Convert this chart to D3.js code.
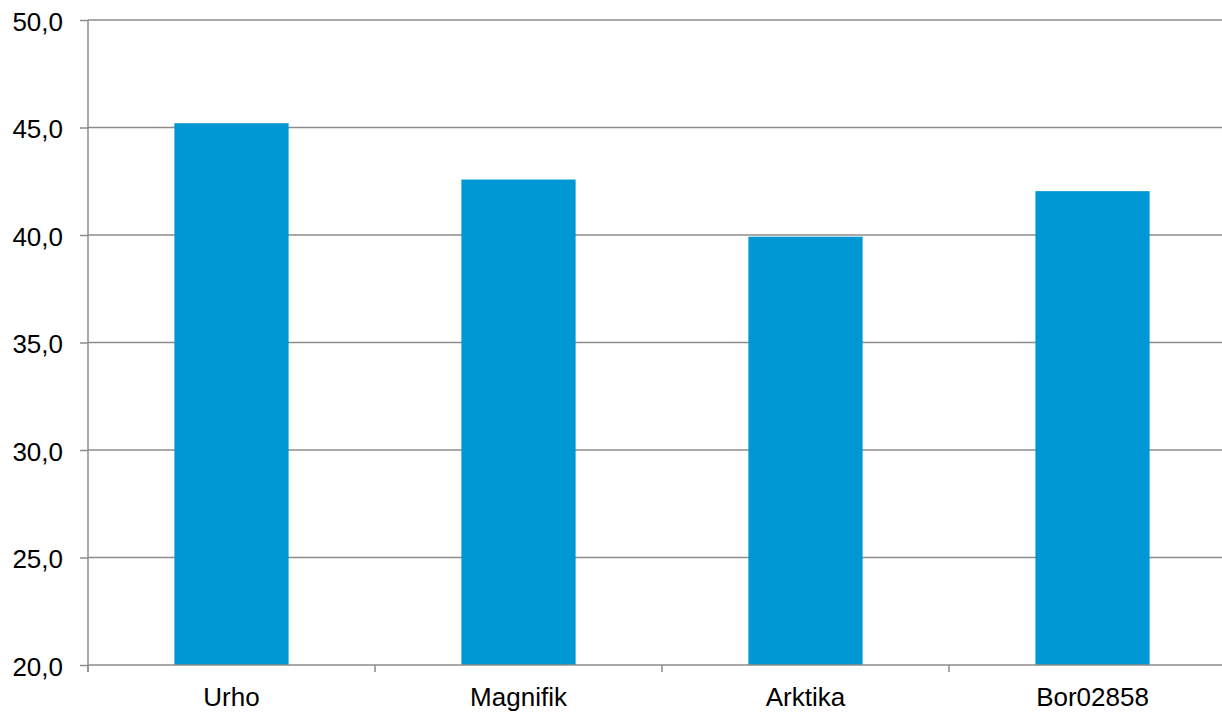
<!DOCTYPE html>
<html lang="en">
<head>
  <meta charset="UTF-8">
  <title>Bar chart</title>
  <script src="https://d3js.org/d3.v7.min.js"></script>
  <style>
    body { margin: 0; background: #fff; }
    text { font-family: "Liberation Sans", Arial, sans-serif; fill: #000; }
  </style>
</head>
<body>
  <div id="chart"></div>
  <script>
    // data
    const categories = ["Urho", "Magnifik", "Arktika", "Bor02858"];
    const values = [45.2, 42.58, 39.92, 42.04];
    const yTicks = [20, 25, 30, 35, 40, 45, 50];

    const W = 1222, H = 713;
    const margin = { top: 20, left: 88 };
    const plotW = 1148, plotH = 645;

    const svg = d3.select("#chart").append("svg")
      .attr("width", W).attr("height", H);
    const g = svg.append("g")
      .attr("transform", "translate(" + margin.left + "," + margin.top + ")");

    const x = d3.scaleBand().domain(categories).range([0, plotW]).padding(0);
    const y = d3.scaleLinear().domain([20, 50]).range([plotH, 0]);
    const fmt = d => d3.format(".1f")(d).replace(".", ",");

    // gridlines
    g.selectAll(".grid").data(yTicks.slice(1)).enter().append("line")
      .attr("x1", 0).attr("x2", plotW)
      .attr("y1", d => y(d)).attr("y2", d => y(d))
      .attr("stroke", "#8c8c8c").attr("stroke-width", 1.5);

    // bars
    const bw = x.bandwidth() * 0.398;
    g.selectAll(".bar").data(values).enter().append("rect")
      .attr("x", (d, i) => x(categories[i]) + (x.bandwidth() - bw) / 2)
      .attr("y", d => y(d))
      .attr("width", bw)
      .attr("height", d => plotH - y(d))
      .attr("fill", "#0098d4");

    // y axis
    const yAxis = g.append("g")
      .call(d3.axisLeft(y).tickValues(yTicks).tickFormat(fmt).tickSize(8).tickPadding(17));
    yAxis.select(".domain").remove();
    yAxis.append("line").attr("x1", 0).attr("x2", 0).attr("y1", 0).attr("y2", plotH + 7)
      .attr("stroke", "#8c8c8c").attr("stroke-width", 1.5);
    yAxis.selectAll(".tick line").attr("stroke", "#8c8c8c").attr("stroke-width", 1.5);
    yAxis.selectAll(".tick text").attr("font-size", 26).attr("dy", "0.4em");

    // x axis
    const xAxis = g.append("g").attr("transform", "translate(0," + plotH + ")")
      .call(d3.axisBottom(x).tickSize(0).tickPadding(23));
    xAxis.select(".domain").remove();
    xAxis.append("line").attr("x1", 0).attr("x2", plotW).attr("y1", 0).attr("y2", 0)
      .attr("stroke", "#8c8c8c").attr("stroke-width", 1.5);
    xAxis.selectAll(".sep").data(categories).enter().append("line")
      .attr("x1", d => x(d)).attr("x2", d => x(d))
      .attr("y1", 0).attr("y2", 7)
      .attr("stroke", "#8c8c8c").attr("stroke-width", 1.5);
    xAxis.selectAll(".tick text").attr("font-size", 26);
  </script>
</body>
</html>
